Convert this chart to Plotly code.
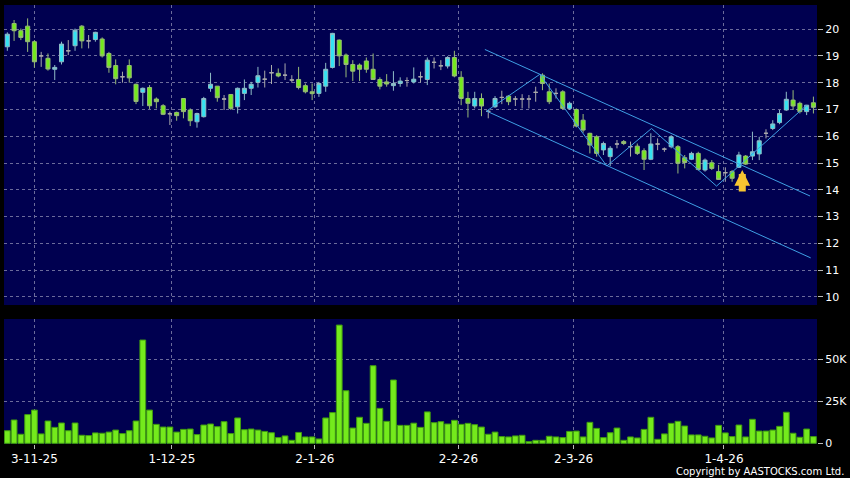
import plotly.graph_objects as go

# daily OHLC (HKD), one value per trading day
opens = [19.34, 20.21, 19.94, 20.11, 19.53, 19.00, 18.91, 18.50, 18.78, 19.19,
         19.38, 20.11, 19.56, 19.61, 19.63, 19.09, 18.64, 18.22, 18.64, 17.94,
         17.64, 17.82, 17.39, 17.14, 16.84, 16.89, 17.41, 16.98, 16.54, 16.73,
         17.79, 17.87, 17.39, 17.56, 17.10, 17.60, 17.79, 18.01, 18.13, 18.37,
         18.35, 18.28, 18.10, 18.12, 17.89, 17.66, 17.60, 17.87, 18.57, 19.59,
         19.03, 18.68, 18.66, 18.81, 18.50, 18.12, 18.03, 17.89, 17.97, 18.08,
         18.03, 18.22, 18.12, 18.76, 18.63, 18.62, 18.94, 18.20, 17.41, 17.13,
         17.41, 16.93, 17.10, 17.45, 17.50, 17.39, 17.39, 17.39, 17.64, 18.28,
         17.66, 17.60, 17.66, 17.04, 17.00, 16.60, 16.11, 15.98, 15.49, 15.24,
         15.71, 15.80, 15.61, 15.63, 15.46, 15.14, 15.71, 15.52, 15.61, 15.61,
         15.20, 15.14, 15.36, 14.74, 15.01, 14.68, 14.64, 14.68, 14.84, 15.26,
         15.26, 15.34, 16.11, 16.29, 16.51, 16.98, 17.35, 17.23, 16.92, 17.25]
highs = [19.88, 20.34, 20.02, 20.40, 19.59, 19.15, 19.09, 18.66, 19.53, 19.59,
         20.02, 20.15, 19.78, 19.90, 19.69, 19.15, 18.87, 18.41, 18.87, 17.97,
         17.82, 17.91, 17.45, 17.20, 16.92, 16.92, 17.41, 17.04, 16.88, 17.47,
         18.37, 17.87, 17.54, 17.57, 17.82, 18.12, 18.03, 18.59, 18.45, 18.66,
         18.53, 18.72, 18.28, 18.59, 17.97, 17.97, 18.03, 18.74, 19.86, 19.61,
         19.09, 18.84, 18.72, 18.94, 19.09, 18.20, 18.32, 18.43, 18.20, 18.20,
         18.57, 18.41, 18.94, 18.94, 18.84, 18.99, 19.19, 18.43, 17.66, 17.66,
         17.60, 16.98, 17.50, 17.70, 17.54, 17.50, 17.57, 17.54, 17.85, 18.35,
         17.97, 17.79, 17.72, 17.29, 17.04, 16.83, 16.13, 16.04, 15.80, 15.63,
         15.86, 15.86, 15.80, 15.73, 15.55, 16.11, 15.92, 15.58, 16.04, 15.67,
         15.30, 15.42, 15.42, 15.17, 15.11, 14.93, 14.84, 14.74, 15.42, 15.30,
         16.17, 15.98, 16.26, 16.60, 16.98, 17.66, 17.72, 17.29, 17.16, 17.48]
lows = [19.19, 19.56, 19.59, 19.15, 18.56, 18.59, 18.45, 18.10, 18.68, 19.03,
        19.19, 19.28, 19.28, 19.53, 18.94, 18.37, 17.94, 18.00, 18.00, 17.20,
        17.13, 17.02, 17.04, 16.79, 16.42, 16.58, 16.67, 16.38, 16.32, 16.70,
        17.66, 17.29, 16.98, 16.98, 16.85, 17.35, 17.54, 17.82, 17.82, 17.95,
        18.20, 18.10, 18.00, 17.75, 17.60, 17.35, 17.47, 17.66, 18.53, 18.62,
        18.20, 18.06, 18.06, 18.37, 18.10, 17.75, 17.85, 17.70, 17.85, 17.85,
        17.97, 18.00, 17.91, 18.53, 18.47, 18.53, 18.20, 17.16, 16.70, 17.04,
        16.75, 16.67, 17.06, 17.20, 17.16, 17.13, 17.04, 17.04, 17.29, 17.72,
        17.20, 17.41, 17.00, 16.98, 16.33, 16.13, 15.36, 15.24, 15.30, 14.89,
        15.55, 15.67, 15.24, 15.30, 14.74, 15.11, 15.48, 15.42, 15.55, 14.61,
        14.80, 15.11, 14.72, 14.68, 14.74, 14.37, 14.30, 14.30, 14.82, 14.93,
        15.11, 15.11, 15.92, 16.23, 16.45, 16.95, 16.98, 16.85, 16.79, 16.85]
closes = [19.81, 19.94, 19.69, 19.53, 18.78, 19.00, 18.51, 18.57, 19.44, 19.19,
          19.96, 19.56, 19.56, 19.88, 19.00, 18.57, 18.15, 18.22, 18.18, 17.30,
          17.79, 17.14, 17.29, 16.82, 16.84, 16.77, 16.92, 16.58, 16.85, 17.41,
          17.94, 17.44, 17.39, 17.04, 17.79, 17.79, 17.94, 18.26, 18.13, 18.37,
          18.25, 18.28, 18.10, 17.82, 17.66, 17.59, 17.97, 18.50, 19.84, 19.00,
          18.68, 18.43, 18.50, 18.50, 18.12, 17.87, 17.95, 17.97, 18.06, 18.08,
          18.13, 18.22, 18.84, 18.76, 18.63, 18.94, 18.25, 17.41, 17.23, 17.41,
          17.13, 16.93, 17.41, 17.45, 17.29, 17.39, 17.39, 17.39, 17.64, 17.97,
          17.29, 17.60, 17.04, 17.23, 16.38, 16.23, 15.67, 15.36, 15.73, 15.55,
          15.71, 15.73, 15.61, 15.36, 15.14, 15.71, 15.71, 15.52, 15.98, 14.99,
          15.02, 15.36, 14.76, 15.11, 14.80, 14.39, 14.64, 14.43, 15.30, 14.96,
          15.42, 15.83, 16.11, 16.46, 16.85, 17.38, 17.13, 16.92, 17.16, 17.08]
# daily volume, in thousands of shares
volumes_k = [7.5, 13.9, 5.4, 17.1, 19.8, 5.6, 13.3, 9.5, 12.1, 7.5,
             12.1, 4.8, 4.6, 6.2, 6.0, 6.7, 7.9, 5.8, 7.5, 13.3,
             61.5, 19.8, 11.3, 9.7, 9.7, 6.7, 8.3, 8.5, 5.2, 10.9,
             11.5, 9.9, 12.9, 5.8, 15.1, 8.1, 8.5, 7.9, 7.1, 6.3,
             3.4, 4.4, 1.8, 6.5, 3.8, 3.8, 2.6, 15.1, 18.3, 70.4,
             31.3, 9.1, 15.5, 11.9, 46.2, 20.8, 13.1, 37.7, 10.7, 10.7,
             12.0, 9.5, 18.7, 12.3, 12.9, 11.5, 13.7, 11.3, 11.9, 11.1,
             9.7, 5.4, 6.7, 4.0, 3.8, 4.4, 4.8, 1.0, 1.8, 1.8,
             4.2, 3.8, 3.4, 7.1, 7.3, 3.8, 12.5, 8.9, 3.4, 6.3,
             9.1, 1.8, 3.8, 3.2, 8.3, 15.5, 2.4, 5.6, 11.9, 13.1,
             10.3, 5.0, 5.0, 4.2, 3.2, 10.7, 6.2, 4.0, 10.9, 3.8,
             14.3, 7.3, 7.3, 7.9, 10.1, 18.5, 6.0, 3.6, 8.5, 4.0]

# month ticks (trading-day position) and their labels
tick_pos = [4, 24.3, 45.4, 66.6, 83.6, 105.8]
tick_text = ["3-11-25", "1-12-25", "2-1-26", "2-2-26", "2-3-26", "1-4-26"]

# hand-drawn channel and zigzag (day position, price)
upper_x, upper_y = [70.5, 118.5], [19.24, 13.77]
lower_x, lower_y = [70.75, 118.6], [16.94, 11.46]
zig_x = [70.75, 78.6, 88.5, 95.1, 104.7, 118.0]
zig_y = [16.94, 18.31, 14.89, 16.29, 14.14, 17.16]
arrow_day, arrow_price = 108.5, 14.74

days = list(range(len(closes)))
up = [i for i in days if closes[i] > opens[i]]
down = [i for i in days if closes[i] < opens[i]]
flat = [i for i in days if closes[i] == opens[i]]

CYAN = "#33e3f2"
LIME = "#74ea1c"
NAVY = "#000050"
GRID = "#6b6b9b"
LINE = "#3f9fe4"


def candles(idx, fill, edge):
    style = dict(fillcolor=fill, line=dict(color=edge, width=1))
    return go.Candlestick(
        x=idx,
        open=[opens[i] for i in idx],
        high=[highs[i] for i in idx],
        low=[lows[i] for i in idx],
        close=[closes[i] for i in idx],
        increasing=style, decreasing=style,
        whiskerwidth=0, showlegend=False,
        xaxis="x", yaxis="y",
    )


fig = go.Figure()
fig.add_trace(candles(up, CYAN, "#8fbcc6"))
fig.add_trace(candles(down, LIME, "#98bb78"))
fig.add_trace(candles(flat, "#aaaaaa", "#aaaaaa"))

for xs, ys in [(upper_x, upper_y), (lower_x, lower_y), (zig_x, zig_y)]:
    fig.add_trace(go.Scatter(x=xs, y=ys, mode="lines", line=dict(color=LINE, width=1),
                             showlegend=False, hoverinfo="skip", xaxis="x", yaxis="y"))

fig.add_trace(go.Bar(
    x=days, y=[v * 1000 for v in volumes_k],
    marker=dict(color=LIME, line=dict(color="#3f9a10", width=1)),
    showlegend=False, xaxis="x2", yaxis="y2",
))

fig.add_annotation(
    x=arrow_day, y=arrow_price, xref="x", yref="y", text="",
    showarrow=True, ax=0, ay=23, arrowhead=2, arrowsize=0.45, arrowwidth=7,
    arrowcolor="#f7c531",
)
fig.add_annotation(
    x=(846 - 4) / 813, y=(444 - 471) / 439, xref="paper", yref="paper",
    text="Copyright by AASTOCKS.com Ltd.",
    showarrow=False, xanchor="right", yanchor="middle",
    font=dict(size=10, color="white"),
)

x_common = dict(
    range=[-0.49, 119.53], tickmode="array", tickvals=tick_pos, ticktext=tick_text,
    showgrid=True, gridcolor=GRID, griddash="3px,3px", gridwidth=1,
    zeroline=False, showline=False,
)
fig.update_layout(
    width=850, height=478,
    margin=dict(l=4, r=33, t=5, b=34),
    paper_bgcolor="black", plot_bgcolor=NAVY,
    font=dict(family="DejaVu Sans", color="white", size=11),
    bargap=0.15, boxgap=0.15,
    xaxis=dict(x_common, anchor="y", showticklabels=False, ticks="",
               rangeslider=dict(visible=False)),
    xaxis2=dict(x_common, anchor="y2", matches="x", ticks="outside", ticklen=4,
                tickcolor="#bbbbbb", tickfont=dict(size=12)),
    yaxis=dict(domain=[0.3166, 1], range=[9.70, 20.90], side="right", dtick=1,
               tick0=10, showgrid=True, gridcolor=GRID, griddash="3px,3px",
               zeroline=False, ticks="outside", ticklen=5, tickcolor="#bbbbbb"),
    yaxis2=dict(domain=[0, 0.2847], range=[-400, 74000], side="right",
                tickmode="array", tickvals=[0, 25000, 50000],
                ticktext=["0", "25K", "50K"], showgrid=True, gridcolor=GRID,
                griddash="3px,3px", zeroline=False, ticks="outside", ticklen=5,
                tickcolor="#bbbbbb"),
)

# page body has a default 8px margin, drop it so the figure fills the window
fig.write_html("out.html", config={"displayModeBar": False},
               post_script="document.body.style.margin='0';")
